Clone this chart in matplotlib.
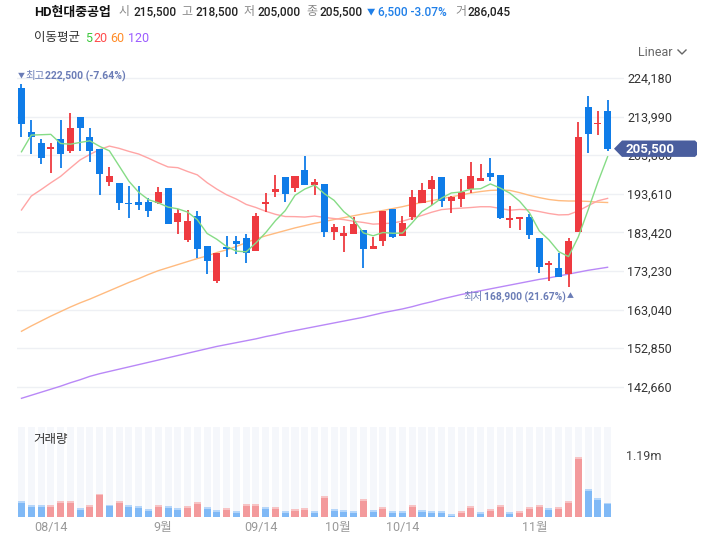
import matplotlib
matplotlib.use('Agg')
import matplotlib.pyplot as plt
from matplotlib.patches import Polygon
from matplotlib.lines import Line2D
import numpy as np

plt.rcParams['font.family'] = ['Roboto', 'Noto Sans CJK KR', 'DejaVu Sans']

# ---------------- data ----------------
opens = [221500, 210000, 207000, 205500, 208000, 205000, 214000, 208500, 205500, 196800,
         196400, 191100, 191400, 191500, 191200, 195200, 186200, 181400, 187700, 179800,
         170700, 179600, 181200, 181800, 178600, 190800, 194200, 198000, 195200, 200000,
         196000, 196300, 183600, 182500, 183100, 184100, 179100, 181200, 189600, 182500,
         187500, 191100, 194800, 198000, 191600, 192300, 194900, 197100, 199100, 198600,
         186600, 186900, 187600, 181800, 174900, 173900, 172500, 183600, 216500, 212000,
         215500]
highs = [222500, 213000, 208000, 207000, 213000, 215000, 214000, 211000, 205500, 200600,
         196400, 195700, 195700, 192400, 195500, 195200, 189500, 189300, 189100, 179800,
         178000, 182500, 182500, 183000, 188600, 193700, 198600, 198000, 198300, 203500,
         197500, 196300, 185600, 185100, 187600, 184100, 182300, 189100, 189600, 187700,
         194500, 196400, 198300, 198000, 193000, 197400, 202000, 201600, 203000, 198600,
         190400, 187600, 188300, 181800, 175900, 178100, 181800, 212500, 219500, 215500,
         218500]
lows = [208500, 204000, 201500, 199000, 200500, 204500, 205000, 202000, 193400, 195700,
        189300, 187300, 189300, 187600, 190800, 185500, 183000, 181000, 176600, 172400,
        170000, 177000, 177700, 175400, 178600, 188800, 192800, 191500, 194200, 196000,
        193300, 182300, 181400, 178200, 183100, 174100, 179100, 179900, 182000, 182500,
        186600, 191100, 190600, 190200, 188500, 190200, 193700, 197100, 197100, 186900,
        184700, 184100, 181700, 172600, 170700, 171700, 168900, 183600, 204500, 209000,
        205000]
closes = [212000, 208500, 203000, 206000, 204000, 211000, 211000, 205000, 198900, 198200,
          191200, 190900, 190700, 189100, 194100, 185600, 188600, 186400, 179000, 175900,
          178000, 178900, 180400, 178100, 187700, 191400, 194900, 193600, 198300, 196000,
          196700, 183600, 184800, 183300, 185600, 179100, 179800, 189100, 182300, 185900,
          192800, 194600, 197300, 191800, 192700, 194100, 198300, 197900, 198100, 187300,
          187300, 187600, 182700, 174400, 175300, 171700, 181100, 208500, 209500, 212000,
          205500]
volumes = [310700, 231400, 229000, 232000, 310000, 312000, 171900, 231000, 462700, 244600,
           310700, 231400, 211500, 152000, 231400, 211500, 171900, 211500, 290800, 191700,
           132200, 171900, 112400, 251200, 253000, 191700, 193000, 112400, 152000, 171900,
           112400, 409800, 152000, 132200, 112400, 350300, 132200, 191700, 112400, 111000,
           231400, 132200, 112400, 111000, 52900, 112400, 211500, 92500, 152000, 231400,
           92500, 112400, 191700, 231400, 171900, 191700, 310700, 1190000, 548600, 370200,
           286045]
ma5 = [204700, 209100, 209200, 209300, 206890, 206700, 207170, 207590, 206130, 204940,
       200940, 196910, 194000, 192050, 191220, 190090, 189640, 188780, 186750, 183130,
       181590, 179660, 178460, 178280, 180640, 183340, 186520, 189160, 193200, 194850,
       195910, 193650, 191880, 188870, 186790, 183270, 182520, 183380, 183180, 183230,
       185960, 188920, 190560, 192460, 193820, 194080, 194820, 194940, 196210, 195130,
       193770, 191620, 188600, 183840, 181430, 178320, 177030, 182210, 189290, 196640,
       203390]
ma20 = [189330, 193000, 194700, 196500, 198200, 200400, 202550, 204000, 205300, 206200,
        205600, 204800, 204100, 203000, 201800, 200700, 200500, 199500, 198600, 196540,
        194830, 193340, 192210, 190800, 189980, 188990, 188180, 187600, 187570, 187460,
        187730, 187370, 187070, 186780, 186350, 186030, 185590, 185720, 185880, 186380,
        187120, 187900, 188740, 189430, 189670, 189810, 189980, 190190, 190180, 189740,
        189270, 189470, 189370, 188920, 188400, 188030, 188100, 189080, 190450, 191750,
        192390]
ma60 = [157300, 158700, 160000, 161300, 162500, 163700, 164800, 165800, 166900, 168000,
        169100, 170200, 171200, 172300, 173300, 174100, 174900, 175700, 176500, 177200,
        178100, 178800, 179700, 180700, 181700, 182500, 183200, 183900, 184600, 185200,
        185800, 186300, 186800, 187300, 187800, 188300, 188700, 189200, 189700, 190200,
        190800, 191300, 191800, 192300, 192800, 193300, 193800, 194200, 194500, 194600,
        194500, 193900, 193200, 192600, 192100, 191800, 191700, 191700, 191600, 191400,
        191300]
ma120 = [139600, 140400, 141200, 142000, 142800, 143700, 144500, 145400, 146100, 146700,
         147300, 147900, 148500, 149100, 149700, 150300, 150900, 151500, 152100, 152700,
         153300, 153800, 154300, 154800, 155300, 155900, 156400, 157000, 157500, 158000,
         158500, 159000, 159500, 160000, 160500, 161000, 161600, 162200, 162700, 163200,
         163800, 164500, 165100, 165800, 166400, 167000, 167500, 168000, 168500, 169000,
         169500, 170000, 170500, 171000, 171400, 171900, 172400, 172900, 173400, 173800,
         174200]
price_ticks = [142660, 152850, 163040, 173230, 183420, 193610, 203800, 213990, 224180]
date_tick_pos = [3, 14.5, 24.5, 32.4, 39, 52.5]
date_tick_labels = ['08/14', '9월', '09/14', '10월', '10/14', '11월']

# ---------------- figure ----------------
W, H = 702, 553
fig = plt.figure(figsize=(W / 100, H / 100), dpi=100)
fig.patch.set_facecolor('white')


def fx(px):
    return px / W


def fy(py):
    return 1 - py / H


RED = '#ee3a40'
BLUE = '#0f7ce8'
VRED = '#f39a9c'
VBLUE = '#80b9f6'

n = len(closes)
idx = np.arange(n)
L, R = 17, 624
xlim = (-0.46, 61.68)

# price axes
ax = fig.add_axes([fx(L), fy(415), fx(R) - fx(L), fy(65) - fy(415)])
ax.set_xlim(*xlim)
ax.set_ylim(135192, 227613)
for s in ax.spines.values():
    s.set_visible(False)
ax.set_yticks(price_ticks)
ax.set_yticklabels([f'{v:,}' for v in price_ticks])
ax.yaxis.tick_right()
ax.tick_params(axis='y', length=0, pad=2.5, labelsize=9, labelcolor='#333333')
ax.set_xticks([])
ax.grid(axis='y', color='#eef0f4', linewidth=1.0)
ax.set_axisbelow(True)

# moving averages
ax.plot(idx, ma120, color='#b988f7', lw=1.0, zorder=2)
ax.plot(idx, ma60, color='#ffbb80', lw=1.0, zorder=2)
ax.plot(idx, ma20, color='#ffa5a5', lw=1.0, zorder=2)
ax.plot(idx, ma5, color='#86dc86', lw=1.0, zorder=4)

o = np.array(opens); c = np.array(closes); hi = np.array(highs); lo = np.array(lows)
up = c >= o
cols = np.where(up, RED, BLUE)
ax.vlines(idx, lo, hi, colors=cols, lw=1.3, zorder=3)
bottoms = np.minimum(o, c)
heights = np.maximum(np.abs(c - o), 300)
ax.bar(idx, heights, bottom=bottoms, width=0.72, color=cols, zorder=3, linewidth=0)

# volume axes
vax = fig.add_axes([fx(L), fy(517), fx(R) - fx(L), fy(427) - fy(517)])
vax.set_xlim(*xlim)
vtop = 1785000
vax.set_ylim(0, vtop)
for s in vax.spines.values():
    s.set_visible(False)
vax.set_yticks([])
vax.bar(idx, [vtop] * n, width=0.72, color='#f5f7fb', linewidth=0, zorder=0)
v = np.array(volumes)
vup = np.array([False] + [v[i] > v[i - 1] for i in range(1, n)])
vcols = np.where(vup, VRED, VBLUE)
vcap = np.where(vup, '#f7c3c4', '#b5d6fa')
vax.bar(idx, v, width=0.72, color=vcols, linewidth=0, zorder=2)
vax.bar(idx, [30000] * n, bottom=v - 30000, width=0.72, color=vcap, linewidth=0, zorder=3)
vax.set_xticks(date_tick_pos)
vax.set_xticklabels(date_tick_labels)
vax.tick_params(axis='x', length=0, pad=3, labelsize=9, labelcolor='#999999')

# ---------------- texts ----------------
yh = 12
fig.text(fx(34), fy(yh), 'HD현대중공업', fontsize=9.3, fontweight='bold', color='#111111', va='center')
parts = [(119, '시', '#888888'), (133, '215,500', '#222222'),
         (181, '고', '#888888'), (196, '218,500', '#222222'),
         (244, '저', '#888888'), (258, '205,000', '#222222'),
         (306, '종', '#888888'), (320, '205,500', '#222222'),
         (367, '▼', '#1f7fe8'), (378, '6,500 -3.07%', '#1f7fe8'),
         (455, '거', '#888888'), (468, '286,045', '#222222')]
for x, t, col in parts:
    fs = 6 if t == '▼' else 8.6
    fig.text(fx(x), fy(yh), t, fontsize=fs, color=col, fontweight='medium', va='center')

ym = 38
fig.text(fx(34), fy(ym), '이동평균', fontsize=9, color='#333333', va='center')
for x, t, col in [(85, '5', '#3cc83c'), (93, '20', '#ff4b4b'), (110, '60', '#ff8c28'), (128, '120', '#9b5cff')]:
    fig.text(fx(x), fy(ym), t, fontsize=9, color=col, va='center')

fig.text(fx(638), fy(52), 'Linear', fontsize=9, color='#666666', va='center')
fig.add_artist(Line2D([fx(678), fx(682), fx(686)], [fy(50), fy(54), fy(50)],
                      transform=fig.transFigure, color='#666666', lw=1.0))

fig.text(fx(18), fy(76), '▼', fontsize=5, color='#6a7cb6', va='center')
fig.text(fx(25), fy(76), '최고', fontsize=7.5, color='#6a7cb6', va='center')
fig.text(fx(45), fy(76), '222,500 (-7.64%)', fontsize=7.5, fontweight='bold', color='#6a7cb6', va='center')

fig.text(fx(463), fy(297), '최저', fontsize=7.5, color='#6a7cb6', va='center')
fig.text(fx(484), fy(297), '168,900 (21.67%)', fontsize=7.4, fontweight='bold', color='#6a7cb6', va='center')
fig.text(fx(566.5), fy(297), '▲', fontsize=5, color='#6a7cb6', va='center')

fig.text(fx(33), fy(440), '거래량', fontsize=9, color='#333333', va='center')
fig.text(fx(626), fy(457), '1.19m', fontsize=9, color='#444444', va='center')

# current price tag
yc = 148.7
tag = [(614, yc), (622, yc - 8.2), (695, yc - 8.2), (697, yc - 6.2), (697, yc + 6.2),
       (695, yc + 8.2), (622, yc + 8.2)]
fig.add_artist(Polygon([(fx(a), fy(b)) for a, b in tag], closed=True, transform=fig.transFigure,
                       facecolor='#4a5e9e', edgecolor='none', zorder=5))
fig.text(fx(626), fy(yc), '205,500', fontsize=9.5, fontweight='bold', color='white', va='center', zorder=6)

fig.savefig('out.png', dpi=100)
